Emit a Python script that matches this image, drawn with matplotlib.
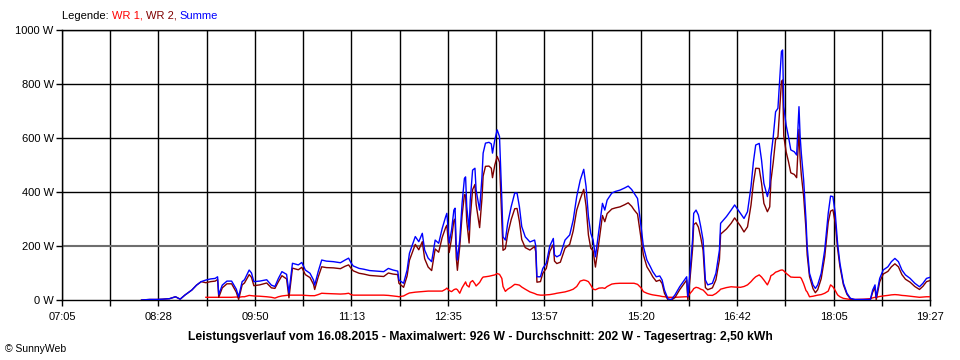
import numpy as np
import matplotlib.pyplot as plt

nan = np.nan

# Uhrzeit der Messpunkte
times = ["08:13", "08:20", "08:26", "08:31", "08:37", "08:42", "08:46", "08:50", "08:56", "09:00",
         "09:04", "09:08", "09:12", "09:16", "09:18", "09:19", "09:22", "09:26", "09:30", "09:34",
         "09:36", "09:39", "09:41", "09:45", "09:47", "09:49", "09:54", "10:00", "10:04", "10:07",
         "10:10", "10:13", "10:17", "10:19", "10:22", "10:27", "10:30", "10:33", "10:37", "10:40",
         "10:41", "10:44", "10:47", "10:51", "10:57", "11:03", "11:07", "11:10", "11:12", "11:14",
         "11:19", "11:23", "11:28", "11:34", "11:40", "11:44", "11:48", "11:52", "11:53", "11:57",
         "12:00", "12:02", "12:05", "12:07", "12:10", "12:13", "12:15", "12:18", "12:21", "12:24",
         "12:27", "12:30", "12:33", "12:34", "12:36", "12:38", "12:40", "12:41", "12:42", "12:43",
         "12:45", "12:47", "12:49", "12:50", "12:51", "12:53", "12:54", "12:56", "12:58", "12:59",
         "13:02", "13:04", "13:05", "13:07", "13:10", "13:12", "13:13", "13:15", "13:17", "13:19",
         "13:21", "13:22", "13:24", "13:26", "13:29", "13:32", "13:34", "13:36", "13:38", "13:41",
         "13:45", "13:49", "13:50", "13:51", "13:54", "13:56", "13:59", "14:02", "14:05", "14:06",
         "14:08", "14:11", "14:15", "14:19", "14:22", "14:25", "14:28", "14:31", "14:33", "14:35",
         "14:37", "14:39", "14:41", "14:44", "14:47", "14:49", "14:51", "14:55", "14:58", "15:02",
         "15:06", "15:09", "15:12", "15:14", "15:17", "15:20", "15:22", "15:25", "15:28", "15:30",
         "15:33", "15:36", "15:38", "15:40", "15:43", "15:46", "15:49", "15:53", "15:58", "15:59",
         "16:00", "16:02", "16:04", "16:05", "16:07", "16:09", "16:11", "16:13", "16:15", "16:17",
         "16:21", "16:24", "16:27", "16:28", "16:33", "16:37", "16:40", "16:45", "16:48", "16:51",
         "16:54", "16:56", "16:58", "17:01", "17:03", "17:05", "17:08", "17:10", "17:11", "17:13",
         "17:15", "17:17", "17:19", "17:20", "17:21", "17:22", "17:24", "17:26", "17:28", "17:31",
         "17:33", "17:35", "17:36", "17:37", "17:39", "17:41", "17:42", "17:44", "17:47", "17:49",
         "17:51", "17:54", "17:57", "18:00", "18:02", "18:04", "18:06", "18:08", "18:10", "18:13",
         "18:16", "18:19", "18:23", "18:30", "18:36", "18:38", "18:40", "18:41", "18:44", "18:47",
         "18:51", "18:54", "18:57", "19:00", "19:03", "19:06", "19:10", "19:14", "19:18", "19:21",
         "19:24", "19:27"]

# WR 1 (W)
wr1 = [nan, nan, nan, nan, nan, nan, nan, nan, nan, nan,
       nan, 10, 10, 10, 10, 10, 10, 10, 10, 11,
       10, 12, 12, 17, 16, 15, 14, 12, 10, 7,
       12, 15, 17, 18, 18, 18, 18, 17, 16, 16,
       16, 20, 25, 24, 23, 22, 23, 25, 20, 18,
       18, 18, 18, 18, 18, 17, 15, 13, 12, 15,
       22, 26, 28, 29, 30, 31, 32, 33, 33, 33,
       33, 33, 40, 44, 35, 31, 38, 40, 41, 38,
       25, 45, 60, 67, 55, 48, 65, 72, 60, 52,
       65, 80, 85, 86, 88, 90, 91, 93, 98, 95,
       80, 50, 32, 40, 48, 58, 57, 55, 48, 40,
       30, 24, 22, 20, 18, 18, 19, 20, 22, 23,
       25, 27, 30, 35, 40, 50, 70, 74, 72, 68,
       55, 40, 38, 44, 45, 43, 50, 59, 61, 62,
       62, 62, 62, 62, 58, 45, 31, 25, 21, 19,
       17, 15, 13, 12, 10, 10, 10, 11, 12, 12,
       12, 25, 35, 42, 47, 45, 40, 37, 28, 18,
       17, 24, 35, 40, 46, 49, 48, 47, 50, 56,
       68, 78, 86, 93, 85, 74, 56, 75, 90, 95,
       103, 106, 110, 111, 111, 108, 99, 92, 85, 84,
       84, 84, 84, 80, 60, 35, 30, 12, 14, 16,
       18, 20, 25, 33, 56, 49, 35, 19, 12, 6,
       4, 2, 2, 3, 5, 8, 10, 10, 13, 15,
       17, 19, 20, 19, 17, 16, 14, 12, 10, 11,
       12, 12]

# WR 2 (W)
wr2 = [0, 2, 2, 3, 5, 12, 3, 18, 37, 55,
       68, 64, 68, 70, 76, 10, 45, 60, 60, 29,
       2, 56, 63, 94, 84, 53, 56, 63, 45, 43,
       68, 90, 78, 8, 118, 112, 121, 94, 83, 58,
       39, 85, 123, 120, 119, 116, 125, 130, 118, 108,
       99, 96, 91, 89, 87, 100, 96, 94, 62, 47,
       89, 147, 182, 206, 186, 216, 153, 122, 109, 189,
       177, 232, 269, 277, 176, 228, 295, 300, 159, 110,
       197, 313, 390, 389, 291, 211, 305, 409, 428, 355,
       268, 376, 459, 495, 496, 488, 453, 500, 532, 510,
       290, 184, 190, 244, 298, 338, 339, 291, 224, 194,
       185, 198, 178, 66, 68, 99, 117, 180, 206, 144,
       135, 140, 192, 206, 256, 333, 374, 410, 348, 241,
       192, 182, 122, 215, 313, 290, 320, 337, 341, 345,
       353, 360, 347, 334, 318, 227, 167, 123, 102, 86,
       69, 74, 61, 25, 0, 0, 9, 38, 68, 74,
       0, 86, 187, 279, 286, 270, 232, 185, 46, 38,
       45, 75, 150, 244, 263, 284, 304, 274, 252, 271,
       352, 432, 488, 487, 433, 358, 327, 345, 441, 510,
       594, 604, 742, 809, 815, 608, 549, 513, 471, 465,
       453, 632, 521, 463, 384, 261, 168, 87, 42, 27,
       38, 79, 160, 288, 329, 334, 286, 191, 124, 56,
       21, 4, 0, 0, 0, 29, 46, 0, 67, 96,
       106, 123, 134, 123, 94, 77, 66, 50, 39, 51,
       68, 72]

# Summe (W)
summe = [0, 2, 2, 3, 5, 12, 3, 18, 37, 55,
         68, 74, 78, 80, 86, 20, 55, 70, 70, 40,
         12, 68, 75, 111, 100, 68, 70, 75, 55, 50,
         80, 105, 95, 26, 136, 130, 139, 111, 99, 74,
         55, 105, 148, 144, 142, 138, 148, 155, 138, 126,
         117, 114, 109, 107, 105, 117, 111, 107, 74, 62,
         111, 173, 210, 235, 216, 247, 185, 155, 142, 222,
         210, 265, 309, 321, 211, 259, 333, 340, 200, 148,
         222, 358, 450, 456, 346, 259, 370, 481, 488, 407,
         333, 456, 544, 581, 584, 578, 544, 593, 630, 605,
         370, 234, 222, 284, 346, 396, 396, 346, 272, 234,
         215, 222, 200, 86, 86, 117, 136, 200, 228, 167,
         160, 167, 222, 241, 296, 383, 444, 484, 420, 309,
         247, 222, 160, 259, 358, 333, 370, 396, 402, 407,
         415, 422, 409, 396, 376, 272, 198, 148, 123, 105,
         86, 89, 74, 37, 4, 2, 19, 49, 80, 86,
         12, 111, 222, 321, 333, 315, 272, 222, 74, 56,
         62, 99, 185, 284, 309, 333, 352, 321, 302, 327,
         420, 510, 574, 580, 518, 432, 383, 420, 531, 605,
         697, 710, 852, 920, 926, 716, 648, 605, 556, 549,
         537, 716, 605, 543, 444, 296, 198, 99, 56, 43,
         56, 99, 185, 321, 385, 383, 321, 210, 136, 62,
         25, 6, 2, 2, 2, 37, 56, 10, 80, 111,
         123, 142, 154, 142, 111, 93, 80, 62, 49, 62,
         80, 84]

tick_labels = ["07:05", "", "08:28", "", "09:50", "", "11:13", "", "12:35", "",
               "13:57", "", "15:20", "", "16:42", "", "18:05", "", "19:27"]
y_ticks = [0, 200, 400, 600, 800, 1000]

t = np.array([int(s[:2]) * 60 + int(s[3:]) for s in times])
t0, t1 = 7 * 60 + 5, 19 * 60 + 27

plt.rcParams['font.family'] = ['Liberation Sans', 'DejaVu Sans']

fig = plt.figure(figsize=(9.6, 3.6), dpi=100)
ax = fig.add_axes([62 / 960, 60 / 360, 868 / 960, 270 / 360])

# Gitter
xpos = np.linspace(t0, t1, len(tick_labels))
for x in xpos:
    ax.axvline(x, color='black', lw=1, zorder=1)
for y in y_ticks[2:]:
    ax.axhline(y, color='black', lw=1, zorder=1)
ax.axhline(200, color='#6e6e6e', lw=1.5, zorder=1)

ax.plot(t, wr1, color='#ff0000', lw=1.0, zorder=3)
ax.plot(t, wr2, color='#800000', lw=1.0, zorder=4)
ax.plot(t, summe, color='#0000ff', lw=1.0, zorder=5)

ax.set_xlim(t0, t1)
ax.set_ylim(0, 1000)
ax.set_xticks(xpos)
ax.set_xticklabels(tick_labels)
ax.set_yticks(y_ticks)
ax.set_yticklabels([f"{v} W" for v in y_ticks])
ax.tick_params(axis='x', length=4, width=1, pad=5, labelsize=8)
ax.tick_params(axis='y', length=4, width=1, pad=2, labelsize=8)
for s in ax.spines.values():
    s.set_linewidth(1)

# Legende (mehrfarbig)
fig.canvas.draw()
r = fig.canvas.get_renderer()
x = 62 / 960
for txt, col in [("Legende: ", "black"), ("WR 1, ", "#ff0000"),
                 ("WR 2, ", "#800000"), ("Summe", "#0000ff")]:
    tt = fig.text(x, 1 - 16 / 360, txt, color=col, fontsize=8, va='center')
    bb = tt.get_window_extent(renderer=r)
    x += bb.width / 960

fig.text(480 / 960, 1 - 337 / 360,
         "Leistungsverlauf vom 16.08.2015 - Maximalwert: 926 W - Durchschnitt: 202 W - Tagesertrag: 2,50 kWh",
         ha='center', va='center', fontsize=8.7, fontweight='bold')
fig.text(5 / 960, 1 - 349 / 360, "© SunnyWeb", fontsize=7.5, va='center')

fig.savefig("out.png", dpi=100)
